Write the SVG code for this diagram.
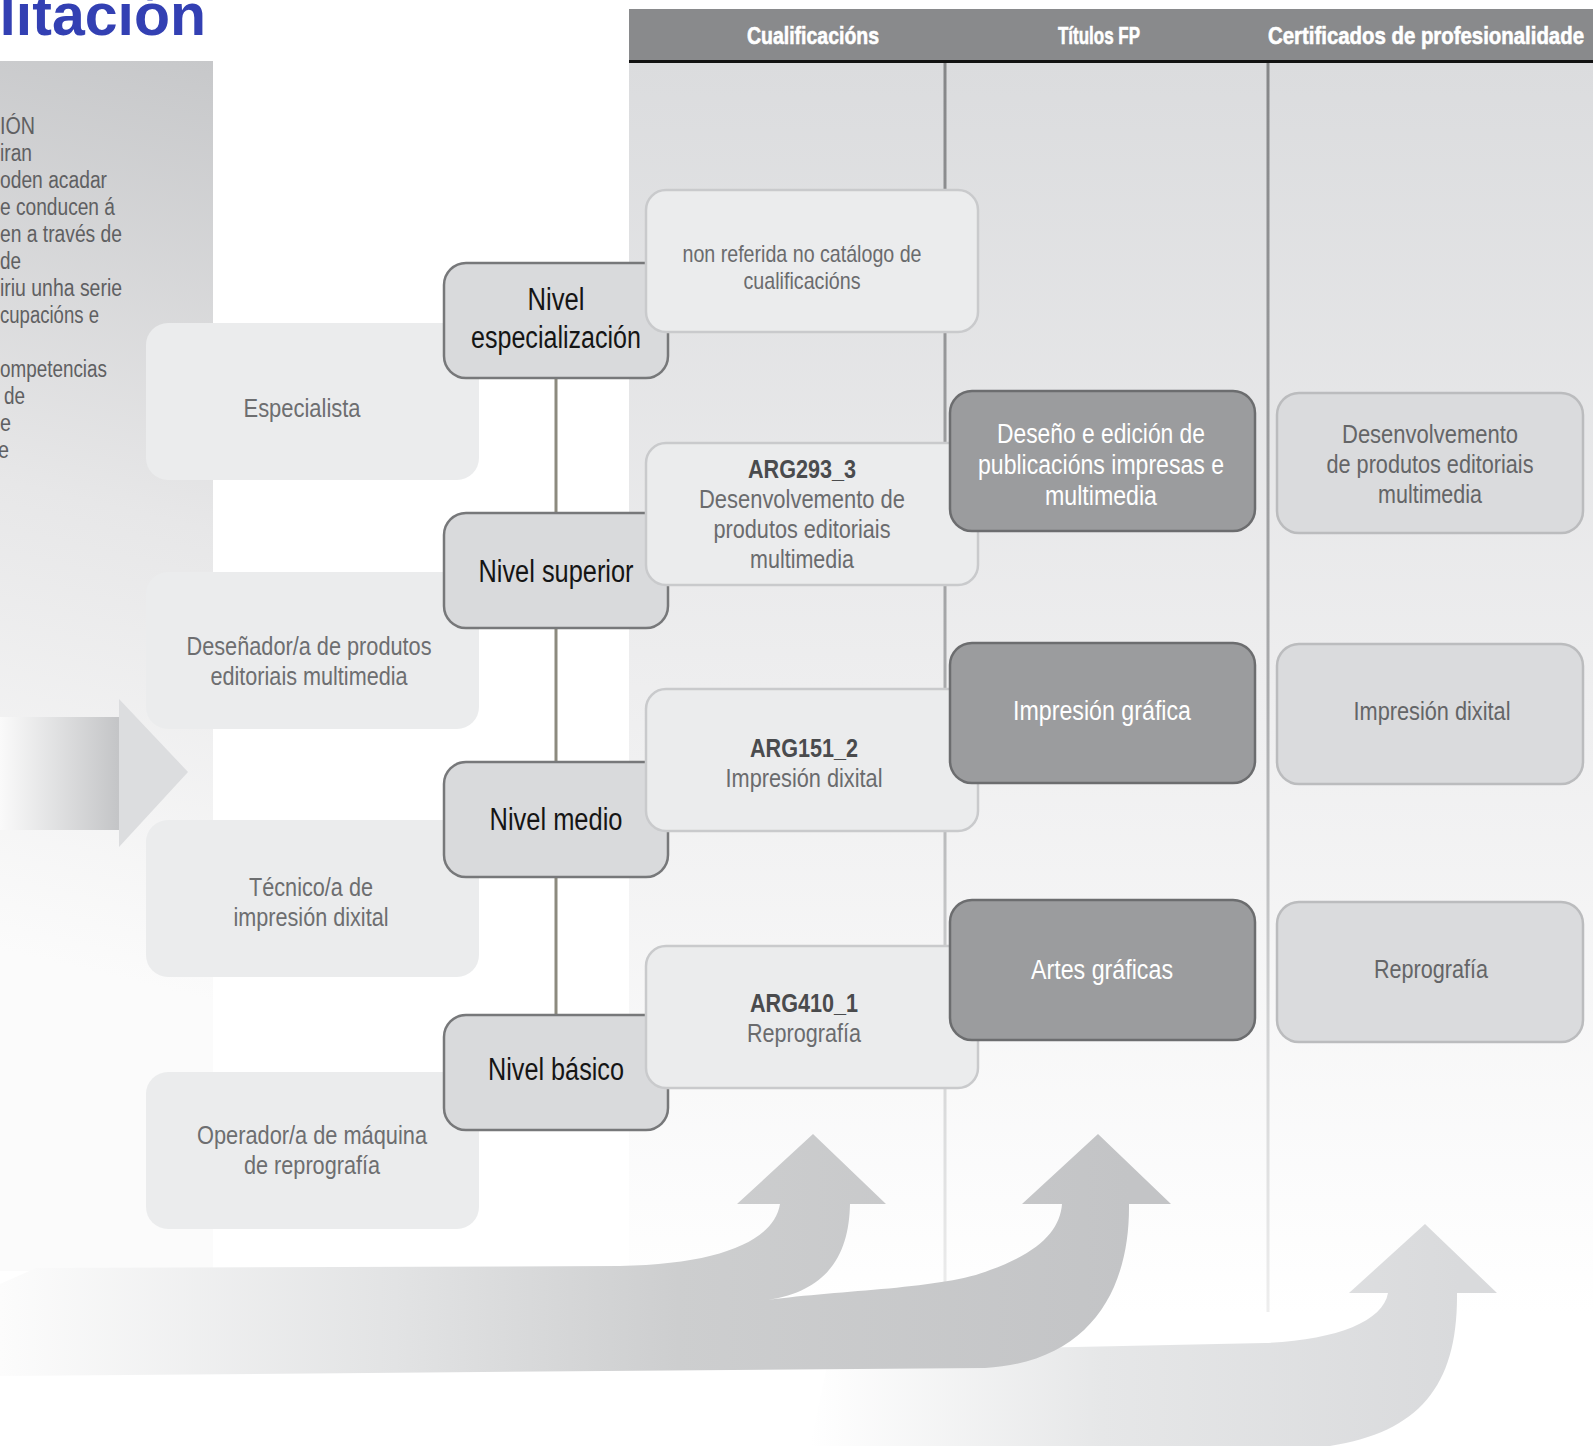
<svg xmlns="http://www.w3.org/2000/svg" width="1593" height="1446" viewBox="0 0 1593 1446">
<defs>
<style>
.t{font-family:"Liberation Sans",Arial,sans-serif}
.hd{font-weight:bold;fill:#ffffff;stroke:#ffffff;stroke-width:0.6;font-size:24px;text-anchor:middle}
.job{fill:#ebeced}
.jt{font-size:26px;fill:#6d6e70;text-anchor:middle}
.lvl{fill:#d9dadc;stroke:#77787a;stroke-width:2.5}
.lt{font-size:31px;fill:#151515;text-anchor:middle}
.q{fill:#ebeced;stroke:#c9cacc;stroke-width:2.5}
.qt{font-size:26px;fill:#6a6b6d;text-anchor:middle}
.qs{font-size:24px}
.qb{font-weight:bold;fill:#4a4b4d}
.fp{fill:#9b9c9e;stroke:#6c6d6f;stroke-width:2.5}
.ft{font-size:27px;fill:#ffffff;text-anchor:middle}
.cp{fill:#dadbdd;stroke:#bbbcbe;stroke-width:2.5}
.ct{font-size:26px;fill:#646567;text-anchor:middle}
.para{font-size:23.5px;fill:#5f6062}
.sep{stroke:url(#sepG);stroke-width:3}
</style>
<linearGradient id="panelG" gradientUnits="userSpaceOnUse" x1="213" y1="61" x2="0" y2="950">
<stop offset="0" stop-color="#c7c8ca"/><stop offset="0.5" stop-color="#e7e7e8"/><stop offset="1" stop-color="#fbfbfb"/>
</linearGradient>
<linearGradient id="colG" gradientUnits="userSpaceOnUse" x1="0" y1="63" x2="0" y2="1313">
<stop offset="0" stop-color="#dbdcde"/><stop offset="0.5" stop-color="#eeeeef"/><stop offset="1" stop-color="#ffffff"/>
</linearGradient>
<linearGradient id="sepG" gradientUnits="userSpaceOnUse" x1="0" y1="63" x2="0" y2="1312">
<stop offset="0" stop-color="#858688"/><stop offset="0.5" stop-color="#a9aaac"/><stop offset="0.8" stop-color="#d5d6d7"/><stop offset="1" stop-color="#eeeeee"/>
</linearGradient>
<linearGradient id="lArrG" gradientUnits="userSpaceOnUse" x1="0" y1="0" x2="118" y2="0">
<stop offset="0" stop-color="#fafafa"/><stop offset="1" stop-color="#c4c5c7"/>
</linearGradient>
<linearGradient id="a12G" gradientUnits="userSpaceOnUse" x1="0" y1="0" x2="1130" y2="0">
<stop offset="0" stop-color="#fcfcfc"/><stop offset="0.35" stop-color="#e2e3e4"/><stop offset="0.6" stop-color="#cdcecf"/><stop offset="1" stop-color="#c3c4c6"/>
</linearGradient>
<linearGradient id="a3G" gradientUnits="userSpaceOnUse" x1="810" y1="0" x2="1460" y2="0">
<stop offset="0" stop-color="#ffffff"/><stop offset="0.45" stop-color="#e6e7e8"/><stop offset="1" stop-color="#d9dadc"/>
</linearGradient>
</defs>

<rect x="0" y="0" width="1593" height="1446" fill="#ffffff"/>

<g id="left-panel">
<rect x="0" y="61" width="213" height="1210" fill="url(#panelG)"/>
<text class="t para" x="0" y="134" textLength="35" lengthAdjust="spacingAndGlyphs">IÓN</text>
<text class="t para" x="0" y="161" textLength="32" lengthAdjust="spacingAndGlyphs">iran</text>
<text class="t para" x="0" y="188" textLength="107" lengthAdjust="spacingAndGlyphs">oden acadar</text>
<text class="t para" x="0" y="215" textLength="115" lengthAdjust="spacingAndGlyphs">e conducen á</text>
<text class="t para" x="0" y="242" textLength="122" lengthAdjust="spacingAndGlyphs">en a través de</text>
<text class="t para" x="0" y="269" textLength="21" lengthAdjust="spacingAndGlyphs">de</text>
<text class="t para" x="0" y="296" textLength="122" lengthAdjust="spacingAndGlyphs">iriu unha serie</text>
<text class="t para" x="0" y="323" textLength="99" lengthAdjust="spacingAndGlyphs">cupacións e</text>
<text class="t para" x="0" y="377" textLength="107" lengthAdjust="spacingAndGlyphs">ompetencias</text>
<text class="t para" x="4" y="404" textLength="21" lengthAdjust="spacingAndGlyphs">de</text>
<text class="t para" x="0" y="431" textLength="11" lengthAdjust="spacingAndGlyphs">e</text>
<text class="t para" x="-2" y="458" textLength="11" lengthAdjust="spacingAndGlyphs">e</text>
</g>

<text id="title" x="206" y="35" text-anchor="end" font-family="'Liberation Sans',Arial,sans-serif" font-weight="bold" font-size="59" fill="#3340b3">ilitación</text>

<g id="columns">
<rect x="629" y="63" width="964" height="1250" fill="url(#colG)"/>
<rect x="629" y="9" width="964" height="52" fill="#898a8c"/>
<line x1="629" y1="61.5" x2="1593" y2="61.5" stroke="#111111" stroke-width="3"/>
<text class="t hd" x="813" y="44" textLength="132" lengthAdjust="spacingAndGlyphs">Cualificacións</text>
<text class="t hd" x="1099" y="44" textLength="82" lengthAdjust="spacingAndGlyphs">Títulos FP</text>
<text class="t hd" x="1426" y="44" textLength="316" lengthAdjust="spacingAndGlyphs">Certificados de profesionalidade</text>
<line class="sep" x1="945" y1="63" x2="945" y2="1312"/>
<line class="sep" x1="1268" y1="63" x2="1268" y2="1312"/>
</g>

<g id="flow-arrows">
<path d="M 810,1446 L 830,1352 L 1265,1343 C 1335,1340 1383,1322 1388,1293 L 1349,1293 L 1425,1224 L 1497,1293 L 1457,1293 C 1458,1385 1420,1432 1330,1446 Z" fill="url(#a3G)"/>
<path d="M 0,1284 L 36,1268 L 620,1266 C 722,1264 774,1240 780,1204 L 737,1204 L 813,1134 L 886,1204 L 850,1204 C 849,1250 832,1290 768,1300 C 840,1290 945,1289 990,1270 C 1040,1252 1060,1230 1062,1204 L 1022,1204 L 1098,1134 L 1171,1204 L 1129,1204 C 1130,1290 1090,1362 985,1368 L 0,1376 Z" fill="url(#a12G)"/>
<rect x="0" y="717" width="119" height="113" fill="url(#lArrG)"/>
<polygon points="119,699 119,847 188,772" fill="#dcdddf"/>
</g>

<g id="job-especialista"><rect class="job" x="146" y="323" width="333" height="157" rx="22"/><text class="t jt" x="302" y="417" textLength="117" lengthAdjust="spacingAndGlyphs">Especialista</text></g>
<g id="job-desenador"><rect class="job" x="146" y="572" width="333" height="157" rx="22"/><text class="t jt" x="309" y="655" textLength="245" lengthAdjust="spacingAndGlyphs">Deseñador/a de produtos</text><text class="t jt" x="309" y="685" textLength="197" lengthAdjust="spacingAndGlyphs">editoriais multimedia</text></g>
<g id="job-tecnico"><rect class="job" x="146" y="820" width="333" height="157" rx="22"/><text class="t jt" x="311" y="896" textLength="124" lengthAdjust="spacingAndGlyphs">Técnico/a de</text><text class="t jt" x="311" y="926" textLength="155" lengthAdjust="spacingAndGlyphs">impresión dixital</text></g>
<g id="job-operador"><rect class="job" x="146" y="1072" width="333" height="157" rx="22"/><text class="t jt" x="312" y="1144" textLength="230" lengthAdjust="spacingAndGlyphs">Operador/a de máquina</text><text class="t jt" x="312" y="1174" textLength="136" lengthAdjust="spacingAndGlyphs">de reprografía</text></g>

<g id="connectors">
<line x1="556" y1="378" x2="556" y2="1015" stroke="#8c8a7e" stroke-width="3"/>
</g>

<g id="nivel-especializacion"><rect class="lvl" x="444" y="263" width="224" height="115" rx="22"/><text class="t lt" x="556" y="310" textLength="57" lengthAdjust="spacingAndGlyphs">Nivel</text><text class="t lt" x="556" y="348" textLength="170" lengthAdjust="spacingAndGlyphs">especialización</text></g>
<g id="nivel-superior"><rect class="lvl" x="444" y="513" width="224" height="115" rx="22"/><text class="t lt" x="556" y="582" textLength="155" lengthAdjust="spacingAndGlyphs">Nivel superior</text></g>
<g id="nivel-medio"><rect class="lvl" x="444" y="762" width="224" height="115" rx="22"/><text class="t lt" x="556" y="830" textLength="133" lengthAdjust="spacingAndGlyphs">Nivel medio</text></g>
<g id="nivel-basico"><rect class="lvl" x="444" y="1015" width="224" height="115" rx="22"/><text class="t lt" x="556" y="1080" textLength="136" lengthAdjust="spacingAndGlyphs">Nivel básico</text></g>

<g id="cual-non-referida"><rect class="q" x="646" y="190" width="332" height="142" rx="20"/><text class="t qt qs" x="802" y="262" textLength="239" lengthAdjust="spacingAndGlyphs">non referida no catálogo de</text><text class="t qt qs" x="802" y="289" textLength="117" lengthAdjust="spacingAndGlyphs">cualificacións</text></g>
<g id="cual-arg293"><rect class="q" x="646" y="443" width="332" height="142" rx="20"/><text class="t qt qb" x="802" y="478" textLength="108" lengthAdjust="spacingAndGlyphs">ARG293_3</text><text class="t qt" x="802" y="508" textLength="206" lengthAdjust="spacingAndGlyphs">Desenvolvemento de</text><text class="t qt" x="802" y="538" textLength="177" lengthAdjust="spacingAndGlyphs">produtos editoriais</text><text class="t qt" x="802" y="568" textLength="104" lengthAdjust="spacingAndGlyphs">multimedia</text></g>
<g id="cual-arg151"><rect class="q" x="646" y="689" width="332" height="142" rx="20"/><text class="t qt qb" x="804" y="757" textLength="108" lengthAdjust="spacingAndGlyphs">ARG151_2</text><text class="t qt" x="804" y="787" textLength="157" lengthAdjust="spacingAndGlyphs">Impresión dixital</text></g>
<g id="cual-arg410"><rect class="q" x="646" y="946" width="332" height="142" rx="20"/><text class="t qt qb" x="804" y="1012" textLength="108" lengthAdjust="spacingAndGlyphs">ARG410_1</text><text class="t qt" x="804" y="1042" textLength="114" lengthAdjust="spacingAndGlyphs">Reprografía</text></g>

<g id="fp-deseno"><rect class="fp" x="950" y="391" width="305" height="140" rx="22"/><text class="t ft" x="1101" y="443" textLength="208" lengthAdjust="spacingAndGlyphs">Deseño e edición de</text><text class="t ft" x="1101" y="474" textLength="246" lengthAdjust="spacingAndGlyphs">publicacións impresas e</text><text class="t ft" x="1101" y="505" textLength="112" lengthAdjust="spacingAndGlyphs">multimedia</text></g>
<g id="fp-impresion"><rect class="fp" x="950" y="643" width="305" height="140" rx="22"/><text class="t ft" x="1102" y="720" textLength="178" lengthAdjust="spacingAndGlyphs">Impresión gráfica</text></g>
<g id="fp-artes"><rect class="fp" x="950" y="900" width="305" height="140" rx="22"/><text class="t ft" x="1102" y="979" textLength="142" lengthAdjust="spacingAndGlyphs">Artes gráficas</text></g>

<g id="cp-desenvolvemento"><rect class="cp" x="1277" y="393" width="306" height="140" rx="22"/><text class="t ct" x="1430" y="443" textLength="176" lengthAdjust="spacingAndGlyphs">Desenvolvemento</text><text class="t ct" x="1430" y="473" textLength="207" lengthAdjust="spacingAndGlyphs">de produtos editoriais</text><text class="t ct" x="1430" y="503" textLength="104" lengthAdjust="spacingAndGlyphs">multimedia</text></g>
<g id="cp-impresion"><rect class="cp" x="1277" y="644" width="306" height="140" rx="22"/><text class="t ct" x="1432" y="720" textLength="157" lengthAdjust="spacingAndGlyphs">Impresión dixital</text></g>
<g id="cp-reprografia"><rect class="cp" x="1277" y="902" width="306" height="140" rx="22"/><text class="t ct" x="1431" y="978" textLength="114" lengthAdjust="spacingAndGlyphs">Reprografía</text></g>
</svg>
